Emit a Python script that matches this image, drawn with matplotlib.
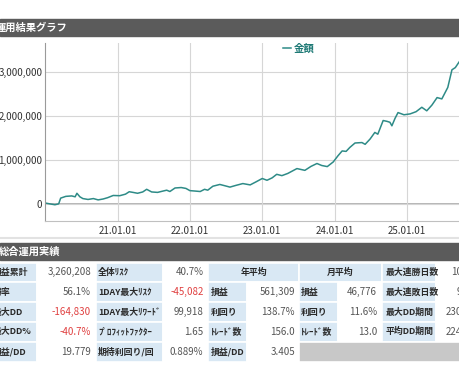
import numpy as np
import matplotlib
matplotlib.use('Agg')
import matplotlib.pyplot as plt
import matplotlib.dates as mdates
from matplotlib.patches import Rectangle

plt.rcParams['font.family'] = ['Noto Sans CJK JP', 'DejaVu Sans']

# equity curve
dates = ['2020-01-01', '2020-01-25', '2020-02-20', '2020-03-10', '2020-03-20', '2020-04-15', '2020-05-15',
         '2020-06-01', '2020-06-10', '2020-06-25', '2020-07-10', '2020-08-05', '2020-09-01', '2020-09-25',
         '2020-10-20', '2020-11-12', '2020-12-10',
         '2021-01-12', '2021-02-10', '2021-03-01', '2021-03-20', '2021-04-12', '2021-05-08', '2021-05-28',
         '2021-06-22', '2021-07-22', '2021-08-18', '2021-09-06', '2021-09-22', '2021-10-18', '2021-11-18',
         '2021-12-12',
         '2022-01-01', '2022-01-28', '2022-02-22', '2022-03-16', '2022-04-01', '2022-04-27', '2022-06-01',
         '2022-06-27', '2022-07-22', '2022-08-22', '2022-09-25', '2022-11-01', '2022-12-01',
         '2023-01-01', '2023-01-25', '2023-02-20', '2023-03-15', '2023-04-10', '2023-05-10', '2023-06-04',
         '2023-06-25', '2023-07-15', '2023-08-04', '2023-09-04', '2023-10-04', '2023-10-28', '2023-11-25',
         '2023-12-25',
         '2024-01-18', '2024-02-08', '2024-02-28', '2024-03-18', '2024-04-13', '2024-05-18', '2024-06-03',
         '2024-06-28', '2024-07-22', '2024-08-06', '2024-09-02', '2024-09-22', '2024-10-06', '2024-10-16',
         '2024-11-01', '2024-11-16', '2024-12-16',
         '2025-01-16', '2025-02-15', '2025-03-16', '2025-04-10', '2025-05-06', '2025-06-01', '2025-06-25',
         '2025-07-25', '2025-08-15', '2025-09-01', '2025-09-25']
equity_k = [30, 10, -10, 10, 140, 180, 190, 170, 250, 170, 130, 110, 130, 100, 120, 150, 200,
            195, 230, 285, 270, 250, 280, 340, 280, 270, 300, 320, 290, 370, 380, 360,
            310, 300, 290, 340, 320, 410, 450, 420, 390, 430, 470, 440, 510,
            585, 545, 600, 680, 650, 700, 760, 810, 790, 770, 860, 925, 880, 855, 960,
            1100, 1210, 1200, 1290, 1390, 1400, 1360, 1480, 1630, 1590, 1900, 1880, 1860, 1780, 1950, 2080, 2030,
            2050, 2100, 2200, 2120, 2250, 2420, 2390, 2650, 3050, 3100, 3260]
year_ticks = ['2021-01-01', '2022-01-01', '2023-01-01', '2024-01-01', '2025-01-01']
y_ticks = [0, 1000000, 2000000, 3000000]

# summary table
col0_labels = ['損益累計', '勝率', '最大DD', '最大DD%', '損益/DD']
col1_values = ['3,260,208', '56.1%', '-164,830', '-40.7%', '19.779']
col2_labels = ['全体ﾘｽｸ', '1DAY最大ﾘｽｸ', '1DAY最大ﾘﾜｰﾄﾞ', 'ﾌﾟﾛﾌｨｯﾄﾌｧｸﾀｰ', '期待利回り/回']
col3_values = ['40.7%', '-45,082', '99,918', '1.65', '0.889%']
year_labels = ['損益', '利回り', 'ﾄﾚｰﾄﾞ数', '損益/DD']
year_values = ['561,309', '138.7%', '156.0', '3.405']
month_labels = ['損益', '利回り', 'ﾄﾚｰﾄﾞ数']
month_values = ['46,776', '11.6%', '13.0']
streak_labels = ['最大連勝日数', '最大連敗日数', '最大DD期間', '平均DD期間']
streak_values = ['10日', '9日', '230日', '224日']

W, H = 460, 380
fig = plt.figure(figsize=(W / 100, H / 100), dpi=100)

# background layer in pixel coordinates
bg = fig.add_axes([0, 0, 1, 1], zorder=0)
bg.set_xlim(0, W)
bg.set_ylim(H, 0)
bg.axis('off')

dark = '#5b5b5b'
blue = '#d9e8f4'
lab_c = '#2a2a2a'
val_c = '#555555'
red_c = '#e04040'

bg.add_patch(Rectangle((0, 19), W, 16.5, color=dark))
bg.text(-4, 27.5, '運用結果グラフ', color='white', fontsize=7.4, fontweight='bold', va='center', ha='left')
bg.plot([0, W], [237.5, 237.5], color='#e2e2e2', lw=1.5)
bg.add_patch(Rectangle((0, 243), W, 16.5, color=dark))
bg.text(-1, 251.5, '総合運用実績', color='white', fontsize=7.4, fontweight='bold', va='center', ha='left')

row_top = 262.5
row_h = 19.8
xe = [-20, 37, 96, 163, 208.5, 247, 299, 338, 382, 436, 500]


def cell(c0, c1, r, color):
    bg.add_patch(Rectangle((xe[c0], row_top + r * row_h), xe[c1] - xe[c0], row_h,
                           facecolor=color, edgecolor='white', lw=1.2))


def label(c, r, s, x=None):
    cell(c, c + 1, r, blue)
    bg.text(xe[c] + 2 if x is None else x, row_top + (r + 0.5) * row_h, s, color=lab_c,
            fontsize=6.4, fontweight='bold', va='center', ha='left')


def value(c, r, s, xr=None):
    cell(c, c + 1, r, 'white')
    bg.text(xe[c + 1] - 5 if xr is None else xr, row_top + (r + 0.5) * row_h, s,
            color=red_c if s.startswith('-') else val_c, fontsize=7, va='center', ha='right')


for r in range(5):
    label(0, r, col0_labels[r], x=-7.5)
    value(1, r, col1_values[r])
    label(2, r, col2_labels[r])
    value(3, r, col3_values[r])

# merged headers
cell(4, 6, 0, blue)
bg.text((xe[4] + xe[6]) / 2, row_top + 0.5 * row_h, '年平均', color=lab_c, fontsize=6.4,
        fontweight='bold', va='center', ha='center')
cell(6, 8, 0, blue)
bg.text((xe[6] + xe[8]) / 2, row_top + 0.5 * row_h, '月平均', color=lab_c, fontsize=6.4,
        fontweight='bold', va='center', ha='center')
for i, (l, v) in enumerate(zip(year_labels, year_values)):
    label(4, i + 1, l)
    value(5, i + 1, v, xr=295)
for i, (l, v) in enumerate(zip(month_labels, month_values)):
    label(6, i + 1, l)
    value(7, i + 1, v, xr=377)
for i, (l, v) in enumerate(zip(streak_labels, streak_values)):
    label(8, i, l, x=386)
    value(9, i, v, xr=472)
bg.add_patch(Rectangle((299, row_top + 4 * row_h), W, row_h, facecolor='#c8c8c8', edgecolor='white', lw=1.2))

# chart
x0 = np.datetime64('2020-01-01')
x1 = np.datetime64('2025-11-01')
px_day = 72.4 / 365.25
width_px = (x1 - x0).astype(int) * px_day
top_px, bot_px = 43, 220.7
ax = fig.add_axes([45 / W, 1 - bot_px / H, width_px / W, (bot_px - top_px) / H], zorder=1)

d = np.array(dates, dtype='datetime64[D]')
ax.plot(d, np.array(equity_k) * 1000, color='#2e8b87', lw=1.1, label='金額')

ppm = 44.1
ax.set_xlim(x0, x1)
ax.set_ylim(-(bot_px - 204.3) / ppm * 1e6, (204.3 - top_px) / ppm * 1e6)
ax.set_xticks(np.array(year_ticks, dtype='datetime64[D]'))
ax.xaxis.set_major_formatter(mdates.DateFormatter('%y.%m.%d'))
ax.set_yticks(y_ticks)
ax.set_yticklabels(['{:,}'.format(v) for v in y_ticks])
ax.tick_params(length=0, labelsize=7, colors='#333333')
ax.tick_params(axis='x', pad=4)
ax.tick_params(axis='y', pad=2)
ax.grid(True, color='#d6d6d6', lw=0.8)
ax.axhline(0, color='#b0b0b0', lw=1.3, zorder=1)
for s in ['top', 'right']:
    ax.spines[s].set_visible(False)
ax.spines['left'].set_color('#9a9a9a')
ax.spines['bottom'].set_color('#c0c0c0')

ax.legend(loc='center left', bbox_to_anchor=(283 / W, 1 - 49 / H), bbox_transform=fig.transFigure,
          frameon=False, handlelength=0.8, handletextpad=0.2, borderpad=0, borderaxespad=0,
          labelcolor='#1f7a76', prop={'size': 7.5, 'weight': 'bold'})

fig.savefig('out.png', dpi=100)
